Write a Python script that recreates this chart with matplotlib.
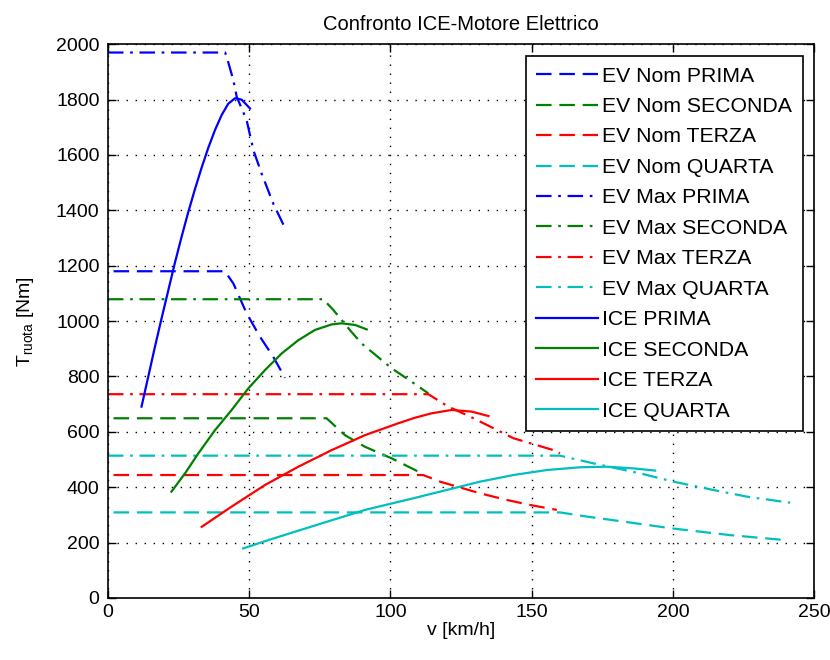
import matplotlib
matplotlib.use("Agg")
import matplotlib.pyplot as plt

# velocita [km/h] e coppia alla ruota [Nm] per ogni marcia
# motore elettrico, coppia nominale
ev_nom_v_prima = [2, 41.4, 44.4, 49.1, 53.8, 58.5, 62.7]
ev_nom_t_prima = [1180, 1180, 1136, 1028, 944, 871, 795]
ev_nom_v_seconda = [2, 77.4, 83.9, 91.0, 100.5, 111.1]
ev_nom_t_seconda = [649, 649, 588, 546, 504, 450]
ev_nom_v_terza = [2, 111.6, 117.6, 131.7, 141.2, 149.4, 158.9]
ev_nom_t_terza = [444, 444, 420, 378, 354, 336, 318]
ev_nom_v_quarta = [2, 160, 169.5, 190.8, 199, 220.2, 239.7]
ev_nom_t_quarta = [309, 309, 294, 264, 252, 227, 209]

# motore elettrico, coppia massima
ev_max_v_prima = [0, 41.5, 42.4, 44.4, 45.6, 49.1, 51.5, 54.4, 58.5, 62.5]
ev_max_t_prima = [1970, 1970, 1942, 1870, 1810, 1726, 1617, 1533, 1425, 1340]
ev_max_v_seconda = [0, 76.2, 79.8, 85.7, 89.8, 100.5, 107.5, 113.4]
ev_max_t_seconda = [1079, 1079, 1040, 967, 919, 829, 781, 739]
ev_max_v_terza = [0, 113.4, 120.5, 128.2, 135.3, 143.5, 157.7, 160]
ev_max_t_terza = [736, 736, 691, 655, 619, 577, 534, 522]
ev_max_v_quarta = [0, 160, 171.9, 188.4, 200.2, 214.3, 226.1, 241.5]
ev_max_t_quarta = [514, 514, 486, 450, 420, 390, 366, 344]

# motore termico
ice_v_prima = [11.9, 14.3, 16.6, 19.0, 21.4, 23.7, 26.1, 28.4, 30.8, 33.2,
               35.5, 37.9, 40.3, 42.6, 45.0, 47.3, 50.3]
ice_t_prima = [691, 800, 905, 1010, 1112, 1210, 1305, 1392, 1476, 1555,
               1625, 1690, 1745, 1785, 1805, 1800, 1768]
ice_v_seconda = [22.5, 27.3, 32.0, 37.9, 43.8, 49.7, 55.6, 61.5, 67.4, 73.3,
                 79.2, 82.7, 87.5, 91.6]
ice_t_seconda = [384, 450, 522, 606, 679, 757, 823, 883, 931, 968,
                 988, 992, 986, 970]
ice_v_terza = [33.2, 43.8, 55.6, 67.4, 79.2, 91.0, 102.8, 108.7, 114.6,
               121.7, 128.8, 134.7]
ice_t_terza = [257, 330, 408, 474, 534, 588, 631, 651, 667,
               679, 673, 657]
ice_v_quarta = [47.9, 56.8, 68.0, 91.0, 108.1, 119.9, 131.7, 143.5, 155.3,
                167.1, 176.6, 186.0, 193.7]
ice_t_quarta = [179, 209, 245, 318, 360, 390, 420, 444, 462,
                472, 474, 468, 460]

marce = ["PRIMA", "SECONDA", "TERZA", "QUARTA"]
colori = ["#0000ff", "#008000", "#ff0000", "#00bfbf"]

plt.rcParams["mathtext.default"] = "regular"
font = ["Liberation Sans", "DejaVu Sans"]

fig = plt.figure(figsize=(8.3, 6.6), dpi=100)
ax = fig.add_axes([0.130, 0.094, 0.851, 0.839])

lw = 1.6
dash = (7, 3.5)
dashdot = (7, 3, 1.2, 3)

nom = [(ev_nom_v_prima, ev_nom_t_prima), (ev_nom_v_seconda, ev_nom_t_seconda),
       (ev_nom_v_terza, ev_nom_t_terza), (ev_nom_v_quarta, ev_nom_t_quarta)]
mx = [(ev_max_v_prima, ev_max_t_prima), (ev_max_v_seconda, ev_max_t_seconda),
      (ev_max_v_terza, ev_max_t_terza), (ev_max_v_quarta, ev_max_t_quarta)]
ice = [(ice_v_prima, ice_t_prima), (ice_v_seconda, ice_t_seconda),
       (ice_v_terza, ice_t_terza), (ice_v_quarta, ice_t_quarta)]

for (v, t), m, c in zip(nom, marce, colori):
    ax.plot(v, t, color=c, lw=lw, dashes=dash, label="EV Nom " + m)
for (v, t), m, c in zip(mx, marce, colori):
    ax.plot(v, t, color=c, lw=lw, dashes=dashdot, label="EV Max " + m)
for (v, t), m, c in zip(ice, marce, colori):
    ax.plot(v, t, color=c, lw=lw, label="ICE " + m)

ax.set_xlim(0, 250)
ax.set_ylim(0, 2000)
ax.set_xticks(range(0, 251, 50))
ax.set_yticks(range(0, 2001, 200))
ax.grid(True, color="black", linestyle=(0, (1, 5.5)), linewidth=1.0)
ax.tick_params(direction="in", length=6, width=1, top=True, right=True,
               labelsize=14)
ax.tick_params(axis="x", pad=4)
ax.tick_params(axis="y", pad=6)
for lab in ax.get_xticklabels() + ax.get_yticklabels():
    lab.set_family(font)
for s in ax.spines.values():
    s.set_linewidth(1.2)

ax.set_title("Confronto ICE-Motore Elettrico", family=font, fontsize=14.5, pad=10)
ax.set_xlabel("v [km/h]", family=font, fontsize=14, labelpad=1)
ax.set_ylabel(r"T$_{ruota}$ [Nm]", family=font, fontsize=14, labelpad=14)

leg = ax.legend(loc="upper right", prop={"family": font, "size": 15.3},
                fancybox=False, framealpha=1, edgecolor="black",
                handlelength=2.9, labelspacing=0.54, borderaxespad=0.55,
                handletextpad=0.2, borderpad=0.5)
leg.get_frame().set_linewidth(1.2)

fig.savefig("out.png", dpi=100)
